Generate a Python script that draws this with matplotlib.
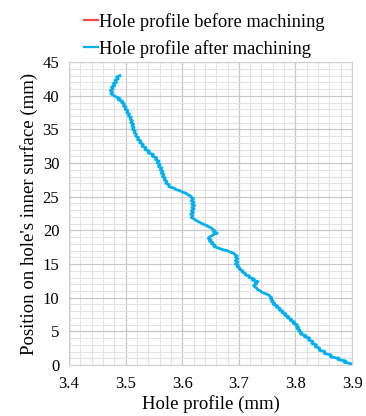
import matplotlib
matplotlib.use('Agg')
import matplotlib.pyplot as plt
from matplotlib.ticker import MultipleLocator

# Профиль отверстия до обработки
before_x = [3.4, 3.4]
before_y = [0.0, 43.5]

# Профиль отверстия после обработки
after_y = [43.0, 42.8, 42.5, 42.3, 42.0, 41.8, 41.5, 41.3, 41.0, 40.8, 40.5, 40.3,
           40.0, 39.8, 39.6, 39.4, 39.2, 39.0, 38.8, 38.5, 38.3, 38.0, 37.8, 37.5,
           37.3, 37.0, 36.8, 36.5, 36.3, 36.0, 35.8, 35.5, 35.3, 35.0, 34.8, 34.5,
           34.3, 34.0, 33.8, 33.5, 33.3, 33.0, 32.8, 32.5, 32.3, 32.0, 31.8, 31.5,
           31.3, 31.0, 30.8, 30.5, 30.3, 30.0, 29.8, 29.5, 29.3, 29.0, 28.8, 28.5,
           28.3, 28.0, 27.8, 27.5, 27.3, 27.0, 26.8, 26.5, 26.3, 26.1, 25.9, 25.7,
           25.5, 25.3, 25.1, 24.9, 24.7, 24.4, 24.2, 23.9, 23.7, 23.4, 23.2, 22.9,
           22.7, 22.4, 22.2, 21.9, 21.7, 21.5, 21.2, 21.0, 20.8, 20.6, 20.4, 20.2,
           20.0, 19.8, 19.6, 19.4, 19.2, 19.0, 18.8, 18.6, 18.4, 18.2, 18.0, 17.8,
           17.6, 17.4, 17.3, 17.1, 17.0, 16.8, 16.6, 16.4, 16.2, 16.0, 15.8, 15.5,
           15.3, 15.0, 14.8, 14.6, 14.4, 14.2, 14.0, 13.8, 13.6, 13.4, 13.2, 13.0,
           12.8, 12.6, 12.4, 12.2, 12.0, 11.8, 11.6, 11.4, 11.2, 11.0, 10.8, 10.6,
           10.4, 10.2, 10.0, 9.8, 9.6, 9.4, 9.2, 9.0, 8.8, 8.6, 8.4, 8.2,
           8.0, 7.8, 7.6, 7.4, 7.2, 7.0, 6.8, 6.6, 6.4, 6.2, 6.0, 5.8,
           5.6, 5.4, 5.2, 5.0, 4.8, 4.6, 4.4, 4.2, 4.0, 3.7, 3.5, 3.2,
           3.0, 2.7, 2.5, 2.2, 2.0, 1.7, 1.5, 1.2, 1.0, 0.8, 0.6, 0.4,
           0.2, 0.0]
after_x = [3.490, 3.484, 3.487, 3.481, 3.484, 3.478, 3.481, 3.475, 3.478, 3.473, 3.477, 3.474,
           3.480, 3.484, 3.490, 3.487, 3.495, 3.493, 3.498, 3.496, 3.501, 3.499, 3.504, 3.502,
           3.507, 3.505, 3.510, 3.508, 3.512, 3.509, 3.514, 3.511, 3.515, 3.512, 3.517, 3.515,
           3.519, 3.518, 3.523, 3.521, 3.527, 3.525, 3.531, 3.529, 3.536, 3.534, 3.542, 3.540,
           3.549, 3.547, 3.555, 3.553, 3.559, 3.556, 3.561, 3.558, 3.564, 3.561, 3.566, 3.563,
           3.568, 3.565, 3.570, 3.568, 3.573, 3.571, 3.577, 3.576, 3.585, 3.588, 3.596, 3.600,
           3.607, 3.610, 3.615, 3.616, 3.620, 3.616, 3.621, 3.617, 3.622, 3.617, 3.621, 3.616,
           3.620, 3.615, 3.619, 3.616, 3.621, 3.624, 3.631, 3.635, 3.641, 3.645, 3.651, 3.653,
           3.657, 3.655, 3.662, 3.656, 3.652, 3.648, 3.646, 3.651, 3.648, 3.654, 3.652, 3.658,
           3.656, 3.663, 3.666, 3.673, 3.679, 3.684, 3.691, 3.693, 3.697, 3.694, 3.698, 3.694,
           3.698, 3.694, 3.699, 3.697, 3.702, 3.701, 3.707, 3.706, 3.712, 3.711, 3.719, 3.718,
           3.727, 3.724, 3.734, 3.729, 3.731, 3.726, 3.728, 3.732, 3.733, 3.738, 3.741, 3.747,
           3.753, 3.755, 3.758, 3.756, 3.760, 3.758, 3.763, 3.761, 3.768, 3.766, 3.773, 3.771,
           3.778, 3.776, 3.783, 3.781, 3.788, 3.786, 3.793, 3.791, 3.798, 3.796, 3.803, 3.801,
           3.806, 3.803, 3.808, 3.806, 3.811, 3.809, 3.818, 3.816, 3.825, 3.823, 3.831, 3.829,
           3.837, 3.835, 3.843, 3.842, 3.852, 3.851, 3.863, 3.862, 3.877, 3.875, 3.889, 3.886,
           3.898, 3.901]

plt.rcParams['font.family'] = ['Liberation Serif', 'DejaVu Serif']

fig = plt.figure(figsize=(3.66, 4.16), dpi=100)
ax = fig.add_axes([0.1885, 0.1226, 0.7735, 0.728])

ax.plot(before_x, before_y, color='#f24b4b', linewidth=1.6, label='Hole profile before machining')
ax.plot(after_x, after_y, color='#00b0f0', linewidth=2.0, label='Hole profile after machining')

ax.set_xlim(3.4, 3.9)
ax.set_ylim(0, 45)
ax.xaxis.set_major_locator(MultipleLocator(0.1))
ax.xaxis.set_minor_locator(MultipleLocator(0.02))
ax.yaxis.set_major_locator(MultipleLocator(5))
ax.yaxis.set_minor_locator(MultipleLocator(1))
ax.grid(which='major', color='#c8c8c8', linewidth=0.9)
ax.grid(which='minor', color='#e3e3e3', linewidth=0.8)
ax.set_axisbelow(True)
ax.tick_params(which='both', length=0, labelsize=12)
ax.tick_params(axis='x', pad=8)
ax.tick_params(axis='y', pad=7)
for s in ax.spines.values():
    s.set_color('#d0d0d0')
    s.set_linewidth(0.8)

ax.set_xlabel('Hole profile (mm)', fontsize=13.5, labelpad=2)
ax.set_ylabel("Position on hole's inner surface (mm)", fontsize=13.5, labelpad=3)

leg = fig.legend(loc='upper left', bbox_to_anchor=(0.195, 1.0), frameon=False,
                 fontsize=13.3, handlelength=0.75, handletextpad=0.05, labelspacing=0.5,
                 borderpad=0.2)
for h in leg.get_lines():
    h.set_linewidth(1.6)

fig.savefig('out.png', dpi=100)
